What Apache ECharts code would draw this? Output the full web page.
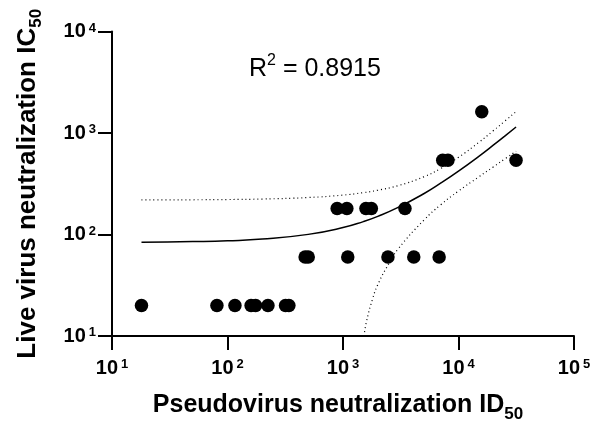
<!DOCTYPE html>
<html>
<head>
<meta charset="utf-8">
<script src="https://cdn.jsdelivr.net/npm/echarts@6/dist/echarts.min.js"></script>
<style>html,body{margin:0;padding:0;background:#fff}#c{width:603px;height:421px}</style>
</head>
<body>
<div id="c"></div>
<script>
// Data: [pseudovirus ID50, live virus IC50]
var points = [
  [18, 20],
  [81, 20], [116, 20], [160, 20], [175, 20], [224, 20], [318, 20], [340, 20],
  [470, 60], [500, 60], [1100, 60], [2450, 60], [4100, 60], [6800, 60],
  [890, 180], [1080, 180], [1580, 180], [1760, 180], [3440, 180],
  [7300, 540], [8100, 540], [31500, 540],
  [15900, 1620]
];
// Regression line (estimated along the curve in the picture)
var fitX = [18, 30, 50, 100, 200, 500, 1000, 1500, 2000, 3000, 5000, 7000, 10000, 15000, 20000, 25000, 31500];
var fitY = [84, 84.4, 85.1, 86.8, 90.1, 100.3, 117, 134, 151, 185, 252, 320, 421, 589, 758, 927, 1146];
// Upper confidence band
var upX = [18, 30, 50, 100, 200, 500, 1000, 1500, 2000, 3000, 5000, 7000, 10000, 15000, 20000, 25000, 31500];
var upY = [219, 219.3, 219.8, 221, 223.6, 231.4, 244.6, 258.4, 272.7, 302.8, 370, 447, 576, 809, 1053, 1301, 1626];
// Lower confidence band
var loX = [1520, 1600, 1800, 2000, 2500, 3000, 5000, 7000, 10000, 15000, 20000, 25000, 31500];
var loY = [10, 14, 23, 32, 52, 72, 138, 196, 268, 370, 463, 552, 660];
// Tick values
var xTicks = [10, 100, 1000, 10000, 100000];
var yTicks = [10, 100, 1000, 10000];
var r2Label = '0.8915';

function zip(a, b) { return a.map(function (v, i) { return [v, b[i]]; }); }
var FONT = 'Liberation Sans, Arial, sans-serif';
function powLabel(v) {
  var e = Math.round(Math.log10(v));
  return '{b|10}{s|' + e + '}';
}
var tickRich = {
  b: { fontFamily: FONT, fontWeight: 'bold', fontSize: 20, color: '#000', lineHeight: 20, verticalAlign: 'middle' },
  s: { fontFamily: FONT, fontWeight: 'bold', fontSize: 13, color: '#000', lineHeight: 13, verticalAlign: 'top', padding: [0, 0, 0, 3] }
};
function nameRich(size) {
  return {
    a: { fontFamily: FONT, fontWeight: 'bold', fontSize: size, color: '#000', lineHeight: 30, verticalAlign: 'top' },
    s: { fontFamily: FONT, fontWeight: 'bold', fontSize: 17, color: '#000', lineHeight: 14, verticalAlign: 'bottom' }
  };
}
var axisCommon = {
  type: 'log', logBase: 10,
  axisLine: { show: true, onZero: false, lineStyle: { color: '#000', width: 2 } },
  axisTick: { show: true, length: 14, lineStyle: { color: '#000', width: 2 } },
  splitLine: { show: false },
  minorTick: { show: false },
  nameLocation: 'middle'
};
var chart = echarts.init(document.getElementById('c'), null, { renderer: 'canvas' });
chart.setOption({
  animation: false,
  backgroundColor: '#fff',
  grid: { left: 112, right: 29, top: 31.5, bottom: 85, containLabel: false, outerBoundsMode: 'none' },
  xAxis: Object.assign({}, axisCommon, {
    min: xTicks[0], max: xTicks[xTicks.length - 1],
    axisLabel: { formatter: powLabel, rich: tickRich, margin: 22 },
    name: '{a|Pseudovirus neutralization ID}{s|50}',
    nameGap: 57,
    nameTextStyle: { rich: nameRich(25), padding: [0, 10, 0, 0] }
  }),
  yAxis: Object.assign({}, axisCommon, {
    min: yTicks[0], max: yTicks[yTicks.length - 1],
    axisLabel: { formatter: powLabel, rich: tickRich, margin: 16 },
    name: '{a|Live virus neutralization IC}{s|50}',
    nameGap: 67,
    nameTextStyle: { rich: nameRich(26) }
  }),
  graphic: [{
    type: 'text', left: 249, top: 53,
    style: {
      text: '{r|R}{s|2}{r| = ' + r2Label + '}',
      rich: {
        r: { fontFamily: FONT, fontSize: 25, fill: '#000', lineHeight: 29, verticalAlign: 'bottom' },
        s: { fontFamily: FONT, fontSize: 16, fill: '#000', lineHeight: 14, verticalAlign: 'top' }
      }
    }
  }],
  series: [
    { type: 'line', data: zip(upX, upY), smooth: true, showSymbol: false, clip: true,
      lineStyle: { color: '#000', width: 1.2, type: [1, 3] }, z: 2 },
    { type: 'line', data: zip(loX, loY), smooth: true, showSymbol: false, clip: true,
      lineStyle: { color: '#000', width: 1.2, type: [1, 3] }, z: 2 },
    { type: 'line', data: zip(fitX, fitY), smooth: true, showSymbol: false, clip: true,
      lineStyle: { color: '#000', width: 1.5 }, z: 3 },
    { type: 'scatter', data: points, symbol: 'circle', symbolSize: 13.5,
      itemStyle: { color: '#000', opacity: 1 }, z: 4 }
  ]
});
</script>
</body>
</html>
